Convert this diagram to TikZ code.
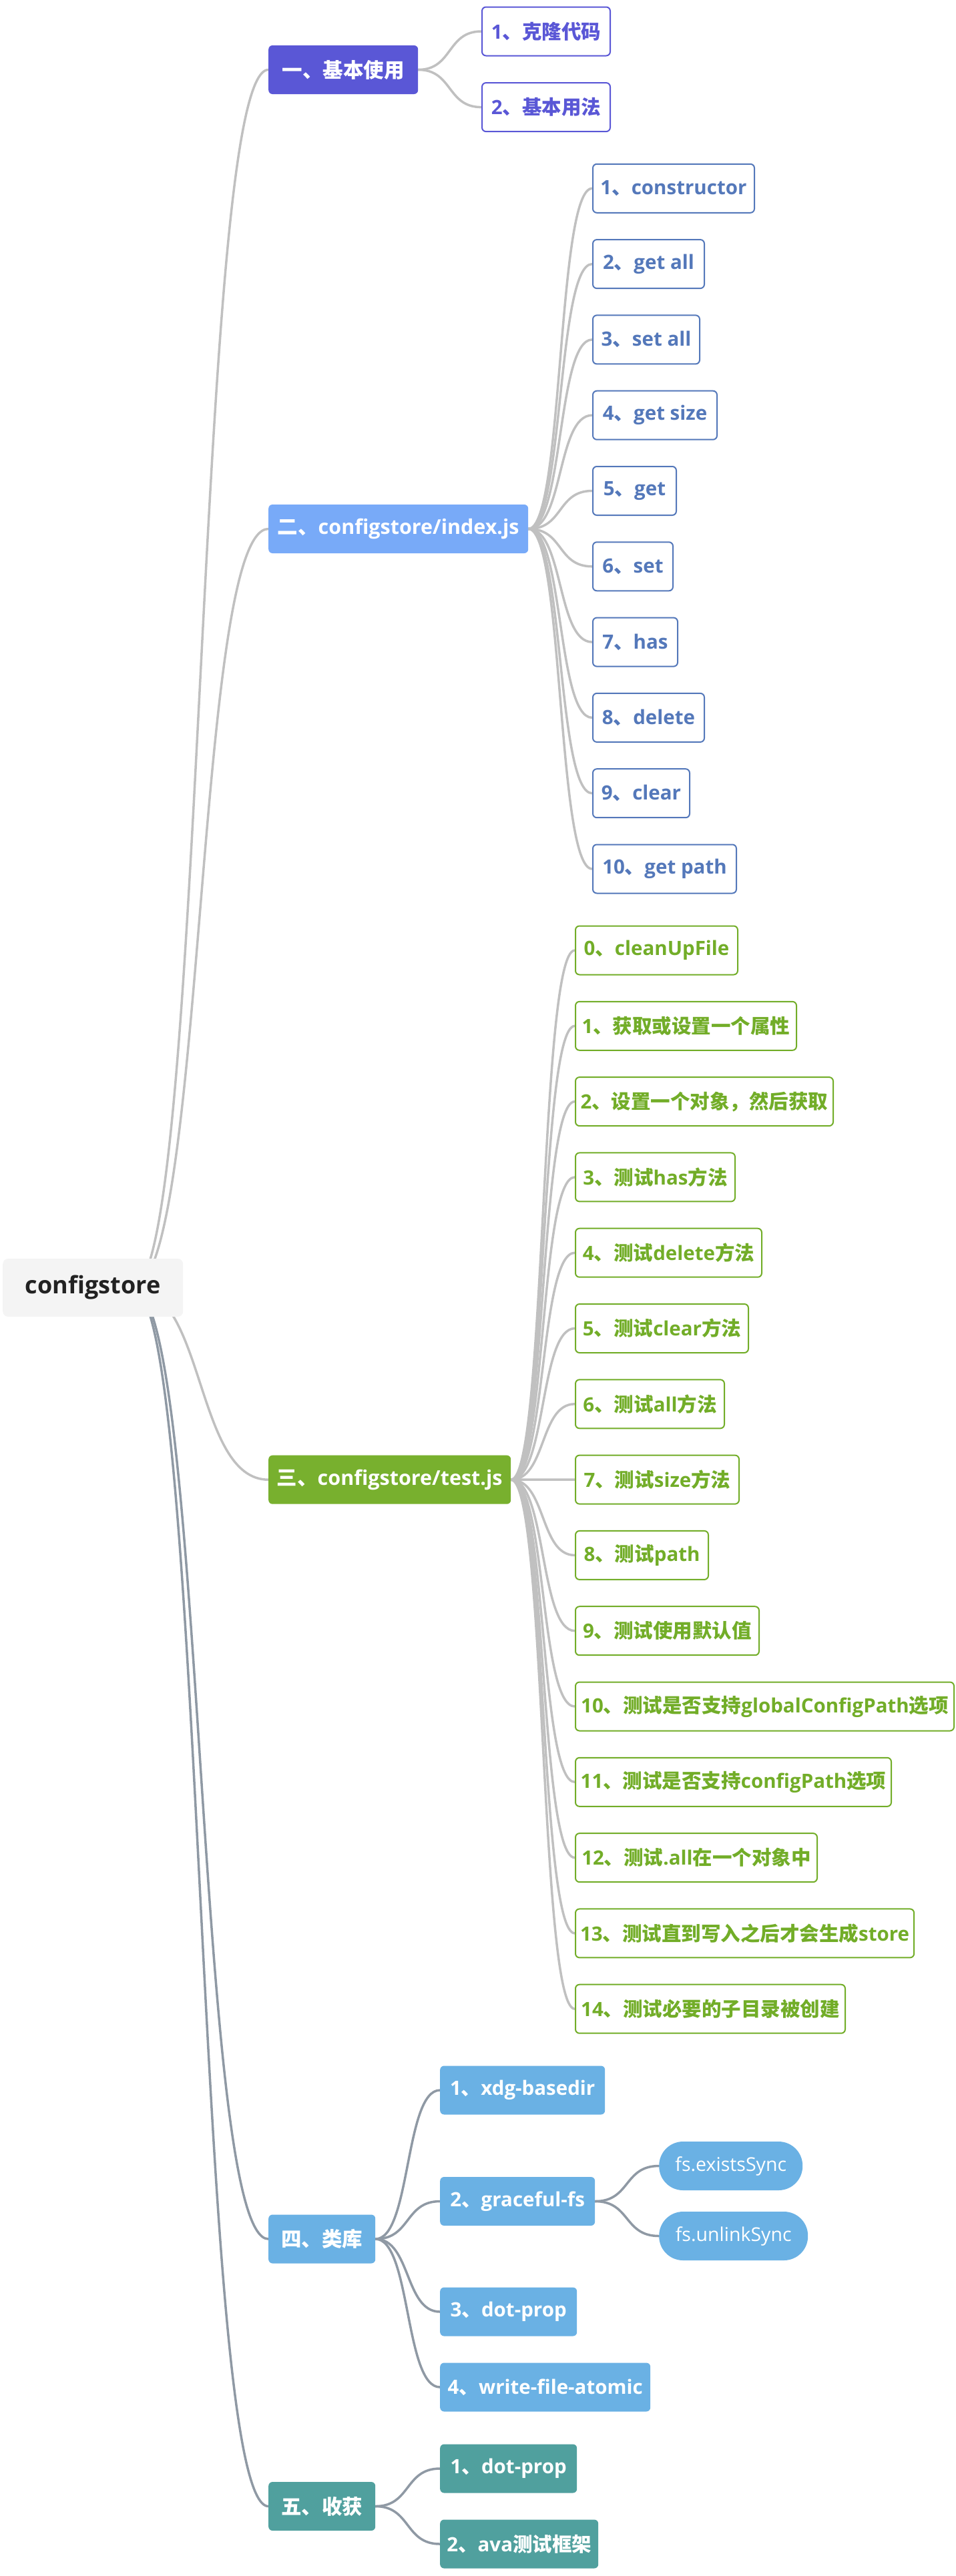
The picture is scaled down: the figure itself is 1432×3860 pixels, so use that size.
\documentclass[tikz,border=0pt]{standalone}
\usepackage{fontspec}
\setmainfont{Open Sans}
\newfontfamily\cjkf{Noto Sans CJK SC}
\newcommand\zh[1]{{\cjkf #1}}
\definecolor{cone}{RGB}{90,87,214}
\definecolor{ctwo}{RGB}{120,170,248}
\definecolor{ctwot}{RGB}{84,120,186}
\definecolor{cthree}{RGB}{120,176,46}
\definecolor{cthreet}{RGB}{114,173,40}
\definecolor{cfour}{RGB}{106,177,228}
\definecolor{cfive}{RGB}{80,160,158}
\definecolor{rootfill}{RGB}{244,244,244}
\definecolor{roottext}{RGB}{34,34,34}
\definecolor{lgline}{RGB}{192,192,192}
\definecolor{dgline}{RGB}{143,153,164}
\pgfdeclarelayer{bg}
\pgfsetlayers{bg,main}
\tikzset{
  basebox/.style={rounded corners=6pt, minimum height=73pt, inner xsep=7pt, inner ysep=0pt, anchor=west,
    font=\fontsize{29.5}{35}\selectfont\bfseries},
  rootbox/.style={basebox, rounded corners=8pt, fill=rootfill, text=roottext, minimum height=87pt,
    font=\fontsize{36}{42}\selectfont\bfseries},
  lonebox/.style={basebox, fill=#1, text=white},
  topbox/.style={lonebox=#1, font=\fontsize{30.5}{36}\selectfont\bfseries},
  ltwobox/.style={basebox, draw=#1, line width=2pt, fill=white, text=#1},
  pillbox/.style={basebox, fill=#1, text=white, rounded corners=36pt, font=\fontsize{28.5}{34}\selectfont},
  lgl/.style={draw=lgline, line width=3.5pt, line cap=round},
  dgl/.style={draw=dgline, line width=3.5pt, line cap=round},
}
\newcommand\conn[4]{\draw[#1] (#2) .. controls +(#4,0) and +(-#4,0) .. (#3);}
\begin{document}
\begin{tikzpicture}[x=1pt,y=-1pt]
\useasboundingbox (0,0) rectangle (1432,3860);
% root
\node[rootbox, minimum width=270pt] (root) at (4,1929.5) {configstore};
\coordinate (rs) at (198,1929.5);
% level 1
\node[topbox=cone, minimum width=224pt] (a1) at (402,104.5) {\zh{一、基本使用}};
\node[topbox=ctwo, minimum width=389pt] (a2) at (402,792.5) {\zh{二、}configstore/index.js};
\node[topbox=cthree, minimum width=363pt] (a3) at (402,2217.2) {\zh{三、}configstore/test.js};
\node[topbox=cfour, minimum width=160pt] (a4) at (402,3355) {\zh{四、类库}};
\node[topbox=cfive, minimum width=160pt] (a5) at (402,3755.5) {\zh{五、收获}};
% level 2 under a1
\node[ltwobox=cone, minimum width=192pt] (b1) at (721,47) {1\zh{、克隆代码}};
\node[ltwobox=cone, minimum width=192pt] (b2) at (721,160.6) {2\zh{、基本用法}};
% level 2 under a2
\node[ltwobox=ctwot, minimum width=242pt] (c1) at (887,282.3) {1\zh{、}constructor};
\node[ltwobox=ctwot, minimum width=167pt] (c2) at (887,395.6) {2\zh{、}get all};
\node[ltwobox=ctwot, minimum width=160pt] (c3) at (887,508.9) {3\zh{、}set all};
\node[ltwobox=ctwot, minimum width=186pt] (c4) at (887,622.2) {4\zh{、}get size};
\node[ltwobox=ctwot, minimum width=125pt] (c5) at (887,735.5) {5\zh{、}get};
\node[ltwobox=ctwot, minimum width=120pt] (c6) at (887,848.8) {6\zh{、}set};
\node[ltwobox=ctwot, minimum width=127pt] (c7) at (887,962.1) {7\zh{、}has};
\node[ltwobox=ctwot, minimum width=167pt] (c8) at (887,1075.4) {8\zh{、}delete};
\node[ltwobox=ctwot, minimum width=145pt] (c9) at (887,1188.7) {9\zh{、}clear};
\node[ltwobox=ctwot, minimum width=215pt] (c10) at (887,1302) {10\zh{、}get path};
% level 2 under a3
\node[ltwobox=cthreet, minimum width=243pt] (d0) at (861,1424) {0\zh{、}cleanUpFile};
\node[ltwobox=cthreet, minimum width=331pt] (d1) at (861,1537.3) {1\zh{、获取或设置一个属性}};
\node[ltwobox=cthreet, minimum width=386pt] (d2) at (861,1650.6) {2\zh{、设置一个对象，然后获取}};
\node[ltwobox=cthreet, minimum width=239pt] (d3) at (861,1763.9) {3\zh{、测试}has\zh{方法}};
\node[ltwobox=cthreet, minimum width=279pt] (d4) at (861,1877.2) {4\zh{、测试}delete\zh{方法}};
\node[ltwobox=cthreet, minimum width=259pt] (d5) at (861,1990.5) {5\zh{、测试}clear\zh{方法}};
\node[ltwobox=cthreet, minimum width=223pt] (d6) at (861,2103.8) {6\zh{、测试}all\zh{方法}};
\node[ltwobox=cthreet, minimum width=245pt] (d7) at (861,2217.1) {7\zh{、测试}size\zh{方法}};
\node[ltwobox=cthreet, minimum width=199pt] (d8) at (861,2330.4) {8\zh{、测试}path};
\node[ltwobox=cthreet, minimum width=275pt] (d9) at (861,2443.7) {9\zh{、测试使用默认值}};
\node[ltwobox=cthreet, minimum width=567pt] (d10) at (861,2557) {10\zh{、测试是否支持}globalConfigPath\zh{选项}};
\node[ltwobox=cthreet, minimum width=473pt] (d11) at (861,2670.3) {11\zh{、测试是否支持}configPath\zh{选项}};
\node[ltwobox=cthreet, minimum width=362pt] (d12) at (861,2783.6) {12\zh{、测试}.all\zh{在一个对象中}};
\node[ltwobox=cthreet, minimum width=505pt] (d13) at (861,2896.9) {13\zh{、测试直到写入之后才会生成}store};
\node[ltwobox=cthreet, minimum width=404pt] (d14) at (861,3010.2) {14\zh{、测试必要的子目录被创建}};
% level 2 under a4
\node[lonebox=cfour, minimum width=247pt] (e1) at (659,3132) {1\zh{、}xdg-basedir};
\node[lonebox=cfour, minimum width=232pt] (e2) at (659,3298.5) {2\zh{、}graceful-fs};
\node[lonebox=cfour, minimum width=205pt] (e3) at (659,3464) {3\zh{、}dot-prop};
\node[lonebox=cfour, minimum width=315pt] (e4) at (659,3577) {4\zh{、}write-file-atomic};
\node[pillbox=cfour, minimum width=215pt] (p1) at (987,3245.5) {fs.existsSync};
\node[pillbox=cfour, minimum width=223pt] (p2) at (987,3350.5) {fs.unlinkSync};
% level 2 under a5
\node[lonebox=cfive, minimum width=205pt] (f1) at (659,3699) {1\zh{、}dot-prop};
\node[lonebox=cfive, minimum width=237pt] (f2) at (659,3812) {2\zh{、}ava\zh{测试框架}};
% connectors
\begin{pgfonlayer}{bg}
\conn{lgl}{rs}{a1.west}{110}
\conn{lgl}{rs}{a2.west}{110}
\conn{lgl}{rs}{a3.west}{110}
\conn{dgl}{rs}{a4.west}{110}
\conn{dgl}{rs}{a5.west}{110}
\foreach \n in {b1,b2} {\conn{lgl}{a1.east}{\n.west}{52}}
\foreach \n in {c1,c2,c3,c4,c5,c6,c7,c8,c9,c10} {\conn{lgl}{a2.east}{\n.west}{53}}
\foreach \n in {d0,d1,d2,d3,d4,d5,d6,d7,d8,d9,d10,d11,d12,d13,d14} {\conn{lgl}{a3.east}{\n.west}{53}}
\foreach \n in {e1,e2,e3,e4} {\conn{dgl}{a4.east}{\n.west}{53}}
\foreach \n in {p1,p2} {\conn{dgl}{e2.east}{\n.west}{53}}
\foreach \n in {f1,f2} {\conn{dgl}{a5.east}{\n.west}{53}}
\end{pgfonlayer}
\end{tikzpicture}
\end{document}
